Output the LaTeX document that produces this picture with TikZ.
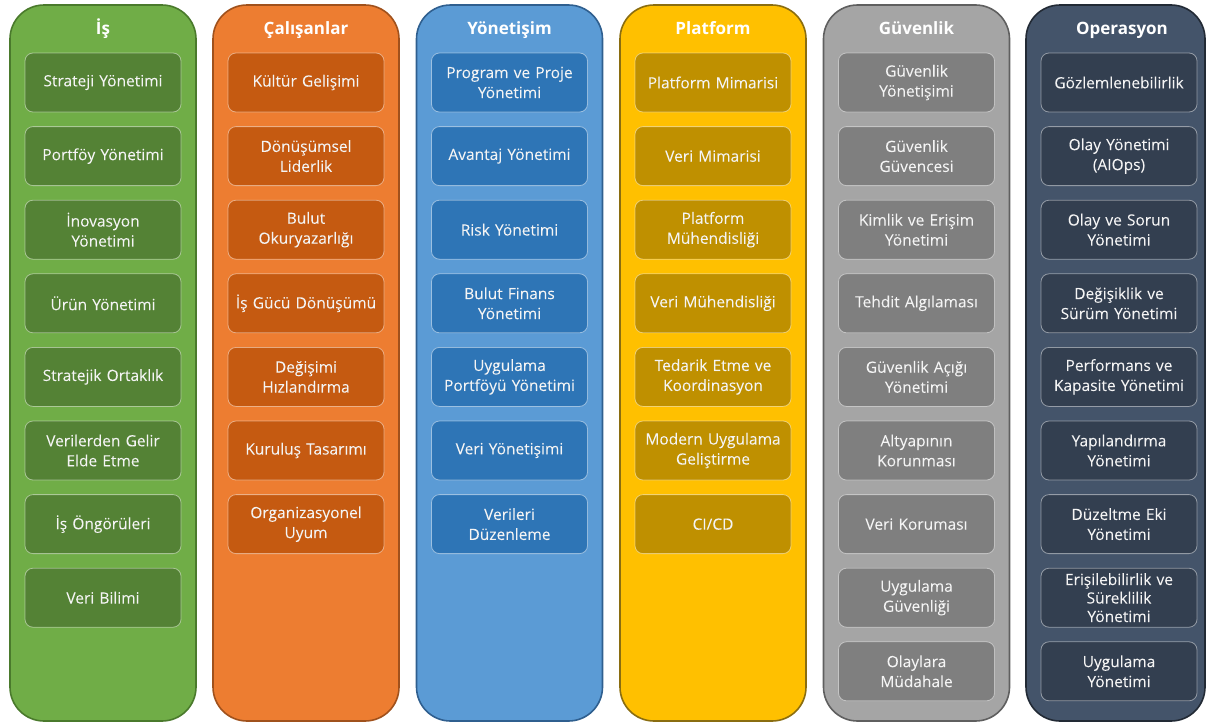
\documentclass[tikz,border=0pt]{standalone}
\usepackage{fontspec}
\setmainfont{Open Sans}
\newfontfamily\boxfont{Open Sans}[FakeBold=0.9]
\usetikzlibrary{positioning}

\definecolor{isFill}{HTML}{70AD47}
\definecolor{isBox}{HTML}{548235}
\definecolor{isLine}{HTML}{4A7A2C}
\definecolor{calFill}{HTML}{ED7D31}
\definecolor{calBox}{HTML}{C55A11}
\definecolor{calLine}{HTML}{A0511C}
\definecolor{yonFill}{HTML}{5B9BD5}
\definecolor{yonBox}{HTML}{2E75B6}
\definecolor{yonLine}{HTML}{2F5F8F}
\definecolor{plaFill}{HTML}{FFC000}
\definecolor{plaBox}{HTML}{BF9000}
\definecolor{plaLine}{HTML}{8A6D10}
\definecolor{guvFill}{HTML}{A5A5A5}
\definecolor{guvBox}{HTML}{7F7F7F}
\definecolor{guvLine}{HTML}{5F5F5F}
\definecolor{opeFill}{HTML}{44546A}
\definecolor{opeBox}{HTML}{333F50}
\definecolor{opeLine}{HTML}{222A35}
\definecolor{textWhite}{HTML}{F4F4F4}

\tikzset{
  column/.style={rectangle, rounded corners=34pt, line width=1.6pt,
    minimum width=186pt, minimum height=716pt, inner sep=0pt},
  coltitle/.style={text=white, anchor=base, font=\fontsize{17}{20}\selectfont\bfseries},
  item/.style={rectangle, rounded corners=8pt, draw=white, draw opacity=0.45,
    line width=0.8pt, minimum width=156pt, minimum height=59pt, inner sep=0pt,
    text width=154pt, align=center, text=textWhite,
    font=\boxfont\fontsize{15.5}{20}\selectfont}
}

\begin{document}
\begin{tikzpicture}[x=1pt, y=-1pt]
  \useasboundingbox (0,0) rectangle (1207,723);

  % Columns
  \node[column, fill=isFill, draw=isLine] (colIs) at (103,363) {};
  \node[column, fill=calFill, draw=calLine] (colCal) at (306,363) {};
  \node[column, fill=yonFill, draw=yonLine] (colYon) at (509.5,363) {};
  \node[column, fill=plaFill, draw=plaLine] (colPla) at (713,363) {};
  \node[column, fill=guvFill, draw=guvLine] (colGuv) at (916.5,363) {};
  \node[column, fill=opeFill, draw=opeLine, minimum width=179pt] (colOpe) at (1115.5,363) {};

  % Titles
  \node[coltitle] (tIs) at (103,34) {İş};
  \node[coltitle] (tCal) at (306,34) {Çalışanlar};
  \node[coltitle] (tYon) at (509.5,34) {Yönetişim};
  \node[coltitle] (tPla) at (713,34) {Platform};
  \node[coltitle] (tGuv) at (916.5,34) {Güvenlik};
  \node[coltitle] (tOpe) at (1122,34) {Operasyon};

  % İş
  \node[item, fill=isBox] (is1) at (103,82.5) {Strateji Yönetimi};
  \node[item, fill=isBox] (is2) at (103,156.1) {Portföy Yönetimi};
  \node[item, fill=isBox] (is3) at (103,229.7) {İnovasyon\\Yönetimi};
  \node[item, fill=isBox] (is4) at (103,303.3) {Ürün Yönetimi};
  \node[item, fill=isBox] (is5) at (103,376.9) {Stratejik Ortaklık};
  \node[item, fill=isBox] (is6) at (103,450.5) {Verilerden Gelir\\Elde Etme};
  \node[item, fill=isBox] (is7) at (103,524.1) {İş Öngörüleri};
  \node[item, fill=isBox] (is8) at (103,597.7) {Veri Bilimi};

  % Çalışanlar
  \node[item, fill=calBox] (cal1) at (306,82.5) {Kültür Gelişimi};
  \node[item, fill=calBox] (cal2) at (306,156.1) {Dönüşümsel\\Liderlik};
  \node[item, fill=calBox] (cal3) at (306,229.7) {Bulut\\Okuryazarlığı};
  \node[item, fill=calBox] (cal4) at (306,303.3) {İş Gücü Dönüşümü};
  \node[item, fill=calBox] (cal5) at (306,376.9) {Değişimi\\Hızlandırma};
  \node[item, fill=calBox] (cal6) at (306,450.5) {Kuruluş Tasarımı};
  \node[item, fill=calBox] (cal7) at (306,524.1) {Organizasyonel\\Uyum};

  % Yönetişim
  \node[item, fill=yonBox] (yon1) at (509.5,82.5) {Program ve Proje\\Yönetimi};
  \node[item, fill=yonBox] (yon2) at (509.5,156.1) {Avantaj Yönetimi};
  \node[item, fill=yonBox] (yon3) at (509.5,229.7) {Risk Yönetimi};
  \node[item, fill=yonBox] (yon4) at (509.5,303.3) {Bulut Finans\\Yönetimi};
  \node[item, fill=yonBox] (yon5) at (509.5,376.9) {Uygulama\\Portföyü Yönetimi};
  \node[item, fill=yonBox] (yon6) at (509.5,450.5) {Veri Yönetişimi};
  \node[item, fill=yonBox] (yon7) at (509.5,524.1) {Verileri\\Düzenleme};

  % Platform
  \node[item, fill=plaBox] (pla1) at (713,82.5) {Platform Mimarisi};
  \node[item, fill=plaBox] (pla2) at (713,156.1) {Veri Mimarisi};
  \node[item, fill=plaBox] (pla3) at (713,229.7) {Platform\\Mühendisliği};
  \node[item, fill=plaBox] (pla4) at (713,303.3) {Veri Mühendisliği};
  \node[item, fill=plaBox] (pla5) at (713,376.9) {Tedarik Etme ve\\Koordinasyon};
  \node[item, fill=plaBox] (pla6) at (713,450.5) {Modern Uygulama\\Geliştirme};
  \node[item, fill=plaBox] (pla7) at (713,524.1) {CI/CD};

  % Güvenlik
  \node[item, fill=guvBox] (guv1) at (916.5,82.5) {Güvenlik\\Yönetişimi};
  \node[item, fill=guvBox] (guv2) at (916.5,156.1) {Güvenlik\\Güvencesi};
  \node[item, fill=guvBox] (guv3) at (916.5,229.7) {Kimlik ve Erişim\\Yönetimi};
  \node[item, fill=guvBox] (guv4) at (916.5,303.3) {Tehdit Algılaması};
  \node[item, fill=guvBox] (guv5) at (916.5,376.9) {Güvenlik Açığı\\Yönetimi};
  \node[item, fill=guvBox] (guv6) at (916.5,450.5) {Altyapının\\Korunması};
  \node[item, fill=guvBox] (guv7) at (916.5,524.1) {Veri Koruması};
  \node[item, fill=guvBox] (guv8) at (916.5,597.7) {Uygulama\\Güvenliği};
  \node[item, fill=guvBox] (guv9) at (916.5,671.3) {Olaylara\\Müdahale};

  % Operasyon
  \node[item, fill=opeBox] (ope1) at (1119,82.5) {Gözlemlenebilirlik};
  \node[item, fill=opeBox] (ope2) at (1119,156.1) {Olay Yönetimi\\(AIOps)};
  \node[item, fill=opeBox] (ope3) at (1119,229.7) {Olay ve Sorun\\Yönetimi};
  \node[item, fill=opeBox] (ope4) at (1119,303.3) {Değişiklik ve\\Sürüm Yönetimi};
  \node[item, fill=opeBox] (ope5) at (1119,376.9) {Performans ve\\Kapasite Yönetimi};
  \node[item, fill=opeBox] (ope6) at (1119,450.5) {Yapılandırma\\Yönetimi};
  \node[item, fill=opeBox] (ope7) at (1119,524.1) {Düzeltme Eki\\Yönetimi};
  \node[item, fill=opeBox, font=\boxfont\fontsize{15.5}{18.5}\selectfont] (ope8) at (1119,597.7) {Erişilebilirlik ve\\Süreklilik\\Yönetimi};
  \node[item, fill=opeBox] (ope9) at (1119,671.3) {Uygulama\\Yönetimi};

\end{tikzpicture}
\end{document}
